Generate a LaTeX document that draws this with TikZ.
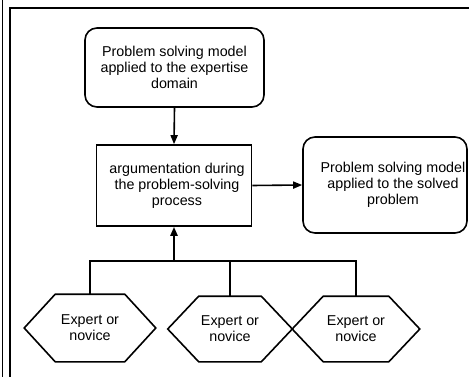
\documentclass[tikz,border=0pt]{standalone}
\usepackage{fontspec}
\setmainfont{Liberation Sans}
\usetikzlibrary{arrows.meta}
\begin{document}
\begin{tikzpicture}[x=1pt,y=-1pt,
  font=\fontsize{14.3}{16}\selectfont,
  line width=1.6pt,
  >={Triangle[length=9pt,width=7pt]},
  rbox/.style={draw, rounded corners=12pt, align=center, inner sep=0pt},
  sqbox/.style={draw, align=center, inner sep=0pt},
  hexn/.style={align=center, inner sep=0pt},
  conn/.style={line width=1.6pt}]
\useasboundingbox (0,0) rectangle (469,377);
% frame lines
\draw[line width=1.6pt] (2.5,0) -- (2.5,377);
\draw[line width=1.8pt] (10,377) -- (10,8) -- (469,8);
% nodes
\node[rbox, minimum width=179pt, minimum height=79pt] (top) at (174.5,67.5)
  {Problem solving model\\applied to the expertise\\domain};
\node[sqbox, minimum width=155pt, minimum height=81pt] (arg) at (174,185.5)
  {\hspace*{6pt}argumentation during\\\hspace*{6pt}the problem-solving\\\hspace*{6pt}process};
\node[rbox, minimum width=164pt, minimum height=96pt] (res) at (385,185)
  {\hspace*{16pt}Problem solving model\\\hspace*{16pt}applied to the solved\\\hspace*{16pt}problem};
\node[hexn, minimum width=130pt, minimum height=66pt] (h1) at (90,328) {Expert or\\novice};
\node[hexn, minimum width=123pt, minimum height=64pt] (h2) at (230,329) {Expert or\\novice};
\node[hexn, minimum width=126pt, minimum height=64pt] (h3) at (356,329) {Expert or\\novice};
\foreach \h in {h1,h2,h3}
  \draw[line width=1.6pt] (\h.west) -- ([xshift=31pt]\h.north west) -- ([xshift=-31pt]\h.north east)
    -- (\h.east) -- ([xshift=-31pt]\h.south east) -- ([xshift=31pt]\h.south west) -- cycle;
% connectors
\draw[conn,->] (top.south) -- (arg.north);
\draw[conn,->] (arg.east) -- (res.west);
\coordinate (j) at (174,261);
\draw[->, line width=2.2pt] (j) -- (arg.south);
\draw[conn] (h1.north) |- (j);
\draw[conn] (h2.north) |- (j);
\draw[conn] (h3.north) |- (j);
\end{tikzpicture}
\end{document}
